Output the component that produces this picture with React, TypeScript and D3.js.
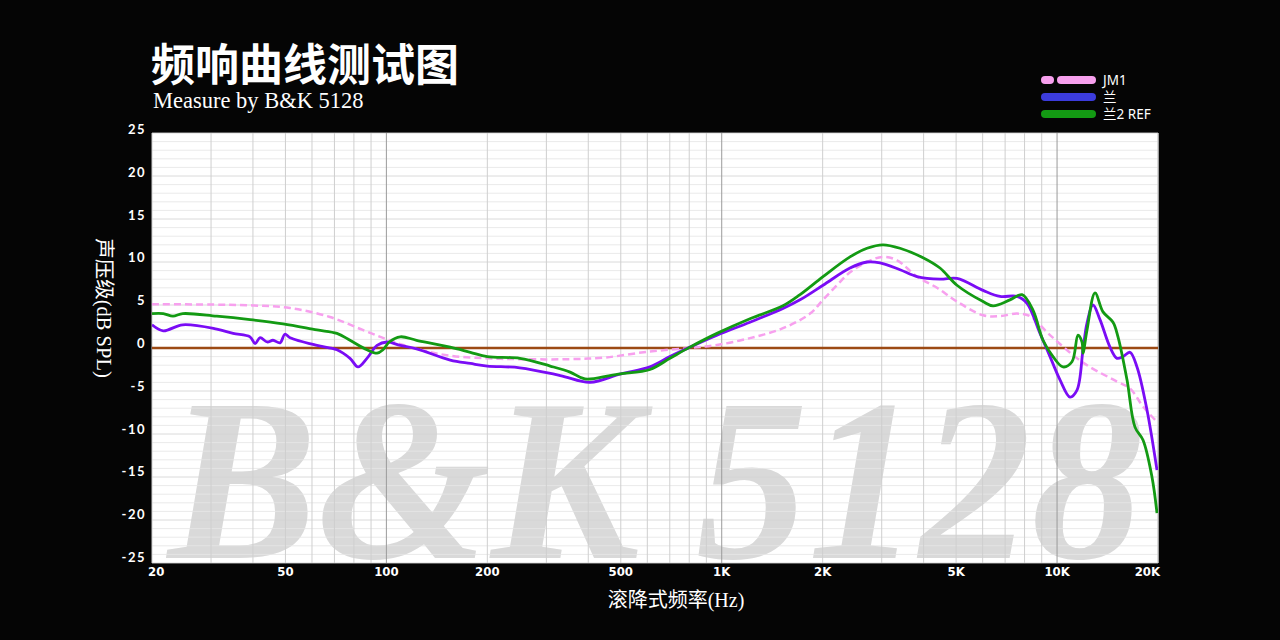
import React from "react";
import * as d3 from "d3";

const W = 1280;
const H = 640;

const xTickValues = [20, 50, 100, 200, 500, 1000, 2000, 5000, 10000, 20000];
const xTickLabels = ["20", "50", "100", "200", "500", "1K", "2K", "5K", "10K", "20K"];
const yTickValues = [25, 20, 15, 10, 5, 0, -5, -10, -15, -20, -25];

const seriesNames = ["JM1", "兰", "兰2 REF"];

const jm1: [number, number][] = [
  [20, 5.1], [30, 5.05], [40, 4.95], [51.6, 4.65], [67.9, 3.6], [85, 2.1], [102, 0.9],
  [123, -0.1], [155, -0.9], [200, -1.2], [250, -1.3], [350, -1.3], [450, -1.1],
  [611, -0.4], [804, 0], [968, 0.35], [1214, 1.15], [1523, 2.3], [1834, 4.0],
  [2005, 5.6], [2206, 7.3], [2413, 8.8], [2712, 10.0], [3026, 10.6], [3332, 10.2],
  [3822, 8.3], [4384, 7.0], [5030, 5.4], [6017, 3.8], [6760, 3.7], [7596, 4.0],
  [8304, 3.7], [9528, 1.5], [11950, -1.7], [15092, -3.9], [16502, -4.7],
  [18042, -6.8], [19862, -8.6],
];

const lan: [number, number][] = [
  [20, 2.7], [21.6, 2.0], [24.7, 2.7], [31.2, 2.2], [34.9, 1.7], [39.2, 1.3],
  [40.6, 0.5], [42.0, 1.2], [44.1, 0.7], [45.9, 0.9], [48.2, 0.6], [49.8, 1.6],
  [51.6, 1.2], [62.1, 0.3], [71.2, -0.2], [77.9, -1.2], [82.3, -2.2], [87.5, -1.2],
  [93.8, 0.3], [100.4, 0.7], [110, 0.3], [123, -0.1], [155, -1.4], [178, -1.8],
  [200, -2.1], [250, -2.3], [330, -3.2], [405, -4.0], [500, -3.0], [611, -2.2],
  [701, -1.0], [804, 0.1], [968, 1.5], [1214, 3.0], [1523, 4.6], [1712, 5.6],
  [2005, 7.3], [2413, 9.3], [2712, 10.0], [2966, 9.9], [3402, 9.1], [3822, 8.3],
  [4476, 8.0], [5030, 8.1], [6017, 6.7], [6760, 6.0], [7596, 6.0], [8134, 5.2],
  [8894, 1.7], [9528, -1.0], [10204, -3.7], [10928, -5.7], [11468, -4.9],
  [11950, -0.2], [12284, 2.9], [12802, 5.0], [13430, 3.3], [14384, 0.1],
  [15092, -1.2], [15726, -1.0], [16502, -0.5], [17314, -2.2], [18544, -7.2],
  [19862, -14.2],
];

const lan2ref: [number, number][] = [
  [20, 4.0], [21.6, 4.0], [23.1, 3.7], [24.7, 4.0], [31.2, 3.7], [39.2, 3.3],
  [49.2, 2.8], [62.1, 2.1], [71.2, 1.7], [77.9, 0.9], [87.5, -0.2], [93.8, -0.6],
  [97.7, -0.2], [102, 0.7], [110, 1.3], [123, 0.9], [155, 0.1], [178, -0.5],
  [200, -1.0], [250, -1.2], [308, -2.1], [353, -2.8], [391, -3.6], [464, -3.2],
  [500, -3.0], [611, -2.5], [701, -1.2], [804, 0.1], [968, 1.7], [1214, 3.4],
  [1523, 4.9], [1712, 6.2], [2005, 8.3], [2413, 10.6], [2712, 11.6], [3026, 12.0],
  [3402, 11.6], [3984, 10.5], [4476, 9.3], [5030, 7.3], [6017, 5.4], [6443, 4.9],
  [7238, 5.6], [7860, 6.2], [8476, 4.4], [9080, 0.9], [9726, -1.0], [10416, -2.2],
  [11080, -1.6], [11548, 1.5], [11868, 0.7], [11950, -0.6], [12284, 2.1],
  [12980, 6.4], [13710, 4.2], [14684, 3.0], [15196, 1.3], [16166, -3.7],
  [17078, -9.2], [18042, -10.7], [19190, -15.0], [19862, -19.2],
];

const PL = 152, PR = 1158, PT = 133, PB = 563;

export default function App() {
  const x = d3.scaleLog().domain([20, 20000]).range([PL, PR]);
  const y = d3.scaleLinear().domain([-25, 25]).range([PB, PT]);
  const yLab = d3.scaleLinear().domain([-25, 25]).range([557, 129]);

  const gridFreqs: number[] = [];
  [10, 100, 1000, 10000].forEach((dec) => {
    for (let i = 1; i <= 9; i++) {
      const f = dec * i;
      if (f >= 20 && f <= 20000) gridFreqs.push(f);
    }
  });
  gridFreqs.push(20000);
  const dbGrid = d3.range(-25, 26, 1);

  const line = d3
    .line<[number, number]>()
    .x((d) => x(d[0]))
    .y((d) => y(d[1]))
    .curve(d3.curveCatmullRom.alpha(0.5));

  const legendItems = [
    { name: seriesNames[0], color: "#f7a0ee", dashed: true },
    { name: seriesNames[1], color: "#3c3cdc", dashed: false },
    { name: seriesNames[2], color: "#139a13", dashed: false },
  ];

  return (
    <svg
      width={W}
      height={H}
      style={{ position: "fixed", left: 0, top: 0, background: "#050505" }}
    >
      <rect x={0} y={0} width={W} height={H} fill="#050505" />
      <defs>
        <clipPath id="plotClip">
          <rect x={PL} y={PT} width={PR - PL} height={PB - PT} />
        </clipPath>
      </defs>

      {/* title */}
      <text
        x={151}
        y={81}
        fill="#ffffff"
        fontFamily="'Noto Sans CJK SC', sans-serif"
        fontWeight={700}
        fontSize={44}
      >
        频响曲线测试图
      </text>
      <text
        x={153}
        y={108}
        fill="#ffffff"
        fontFamily="'Liberation Serif', serif"
        fontSize={22.5}
      >
        Measure by B&amp;K 5128
      </text>

      {/* legend */}
      {legendItems.map((it, i) => {
        const ly = 80 + i * 17;
        return (
          <g key={it.name}>
            {it.dashed ? (
              <>
                <line x1={1045} x2={1050} y1={ly} y2={ly} stroke={it.color} strokeWidth={8} strokeLinecap="round" />
                <line x1={1061} x2={1092} y1={ly} y2={ly} stroke={it.color} strokeWidth={8} strokeLinecap="round" />
              </>
            ) : (
              <line x1={1045} x2={1092} y1={ly} y2={ly} stroke={it.color} strokeWidth={8} strokeLinecap="round" />
            )}
            <text
              x={1103}
              y={ly + 5}
              fill="#ffffff"
              fontFamily="'Noto Sans', 'Noto Sans CJK SC', sans-serif"
              fontSize={13.5}
            >
              {it.name}
            </text>
          </g>
        );
      })}

      {/* plot background */}
      <rect x={PL} y={PT} width={PR - PL} height={PB - PT} fill="#ffffff" />

      {/* watermark */}
      <g clipPath="url(#plotClip)">
        <text
          x={168}
          y={558}
          fill="#d9d9d9"
          fontFamily="'Liberation Serif', serif"
          fontStyle="italic"
          fontWeight={700}
          fontSize={232}
          textLength={975}
          lengthAdjust="spacingAndGlyphs"
        >
          B&amp;K 5128
        </text>
      </g>

      {/* grid */}
      <g>
        {dbGrid.map((v) => (
          <line
            key={"h" + v}
            x1={PL}
            x2={PR}
            y1={y(v)}
            y2={y(v)}
            stroke={v % 5 === 0 ? "#d4d4d4" : "#e6e6e6"}
            strokeOpacity={0.85}
            strokeWidth={1}
          />
        ))}
        {gridFreqs.map((f) => {
          const major = f === 100 || f === 1000 || f === 10000;
          return (
            <line
              key={"v" + f}
              x1={x(f)}
              x2={x(f)}
              y1={PT}
              y2={PB}
              stroke={major ? "#9a9a9a" : "#cfcfcf"}
              strokeWidth={1}
            />
          );
        })}
      </g>

      {/* zero line */}
      <line x1={PL} x2={PR} y1={y(0)} y2={y(0)} stroke="#9c4a14" strokeWidth={2.5} />

      {/* curves */}
      <g clipPath="url(#plotClip)" fill="none">
        <path d={line(jm1) || ""} stroke="#f7a0ee" strokeWidth={2.5} strokeDasharray="7 4" />
        <path d={line(lan) || ""} stroke="#7a0cf5" strokeWidth={2.8} />
        <path d={line(lan2ref) || ""} stroke="#139a13" strokeWidth={2.8} />
      </g>

      {/* y tick labels */}
      {yTickValues.map((v) => (
        <text
          key={"yl" + v}
          x={146}
          y={yLab(v) + 5}
          textAnchor="end"
          fill="#ffffff"
          fontFamily="Lato, 'Noto Sans', sans-serif"
          fontWeight={700}
          fontSize={13}
          letterSpacing={1.5}
        >
          {String(v)}
        </text>
      ))}

      {/* x tick labels */}
      {xTickValues.map((v, i) => {
        const first = i === 0;
        const last = i === xTickValues.length - 1;
        return (
          <text
            key={"xl" + v}
            x={first ? 148 : last ? 1160 : x(v)}
            y={576}
            textAnchor={first ? "start" : last ? "end" : "middle"}
            fill="#ffffff"
            fontFamily="'DejaVu Sans Condensed', 'DejaVu Sans', sans-serif"
            fontWeight={700}
            fontSize={13}
          >
            {xTickLabels[i]}
          </text>
        );
      })}

      {/* axis titles */}
      <text
        x={676}
        y={607}
        textAnchor="middle"
        fill="#ffffff"
        fontFamily="'Liberation Serif', 'Noto Sans CJK SC', serif"
        fontSize={20}
      >
        滚降式频率(Hz)
      </text>
      <text
        transform="translate(97,308) rotate(90)"
        textAnchor="middle"
        fill="#ffffff"
        fontFamily="'Liberation Serif', 'Noto Sans CJK SC', serif"
        fontSize={20.5}
      >
        声压级(dB SPL)
      </text>
    </svg>
  );
}
